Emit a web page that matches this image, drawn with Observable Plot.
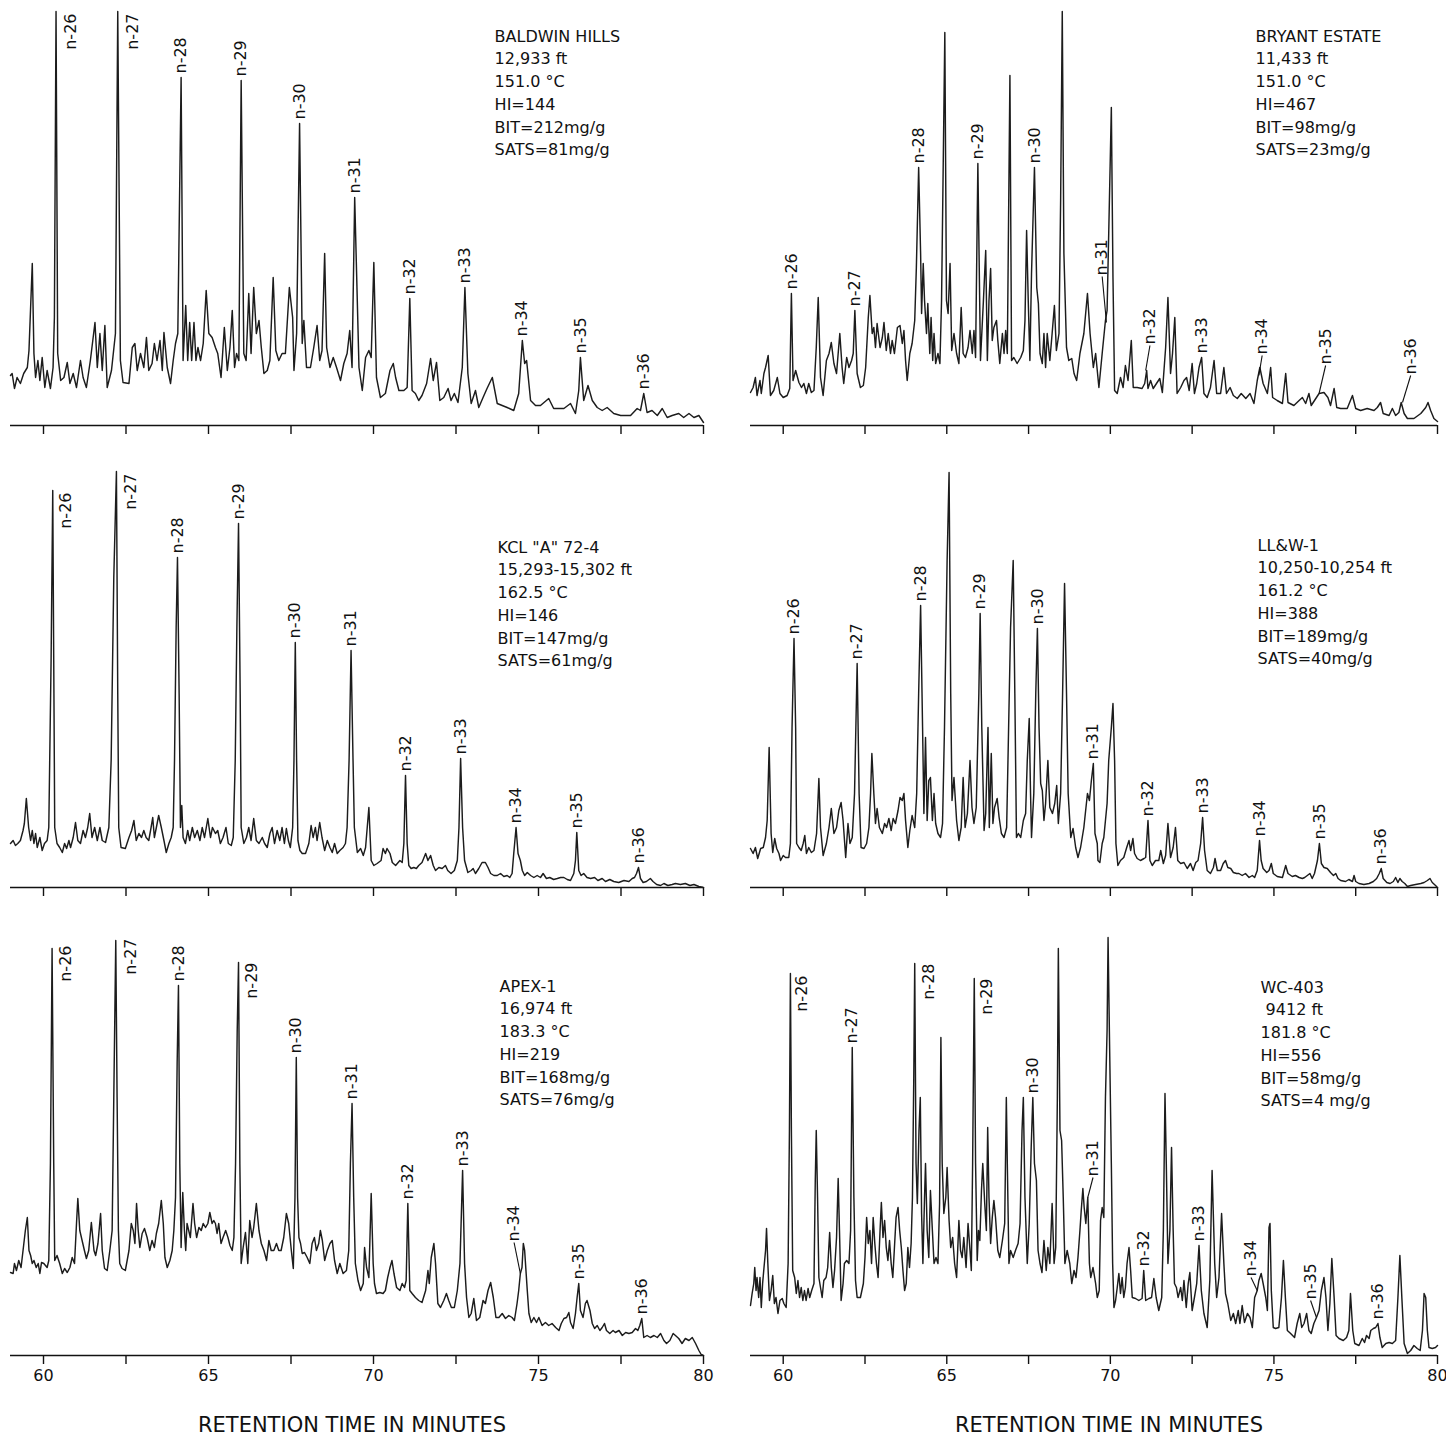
<!DOCTYPE html>
<html>
<head>
<meta charset="utf-8">
<script src="https://cdn.jsdelivr.net/npm/d3@7"></script>
<script src="https://cdn.jsdelivr.net/npm/@observablehq/plot@0.6"></script>
<style>
  body { margin: 0; background: #fff; }
  #page { position: relative; width: 1446px; height: 1441px; background: #fff; font-family: "DejaVu Sans", sans-serif; color: #111; }
  .panel { position: absolute; }
  .panel svg { overflow: visible; }
  .panel svg text { white-space: pre; }
  .xtitle { position: absolute; width: 400px; text-align: center; font-size: 21px; line-height: 21px; color: #111; }
</style>
</head>
<body>
<div id="page"></div>
<script>
// Gas chromatograms (saturate fraction), retention time 59–80 min.
// Each trace is a list of [retention time (min), detector response (arbitrary units)].

const retentionTicks = [60, 62.5, 65, 67.5, 70, 72.5, 75, 77.5, 80];

// ---------- BALDWIN HILLS ----------
const baldwinInfo = ["BALDWIN HILLS", "12,933 ft", "151.0 °C", "HI=144", "BIT=212mg/g", "SATS=81mg/g"];
const baldwinTrace = [[59.00,50],[59.05,52],[59.12,37],[59.20,48],[59.30,42],[59.40,52],[59.51,58],[59.56,75],[59.66,162],[59.71,72],[59.76,48],[59.83,65],[59.89,45],[59.96,68],[60.04,38],[60.11,55],[60.21,37],[60.29,58],[60.33,108],[60.38,414],[60.43,72],[60.52,45],[60.62,48],[60.72,63],[60.80,42],[60.90,52],[61.00,38],[61.12,65],[61.20,48],[61.30,38],[61.42,65],[61.56,103],[61.63,58],[61.71,92],[61.78,55],[61.86,100],[61.93,38],[62.06,55],[62.18,92],[62.25,414],[62.33,65],[62.41,43],[62.59,42],[62.69,78],[62.77,82],[62.84,55],[62.94,72],[63.04,58],[63.12,88],[63.19,55],[63.29,62],[63.36,82],[63.44,65],[63.53,85],[63.60,55],[63.65,93],[63.75,58],[63.85,42],[63.93,65],[64.00,82],[64.07,92],[64.17,348],[64.23,65],[64.31,120],[64.37,65],[64.43,103],[64.49,65],[64.56,103],[64.62,65],[64.68,78],[64.76,65],[64.84,82],[64.93,135],[65.01,92],[65.11,88],[65.21,78],[65.28,72],[65.38,48],[65.48,98],[65.57,55],[65.65,78],[65.72,115],[65.79,58],[65.85,72],[65.92,65],[65.99,345],[66.07,72],[66.14,65],[66.22,132],[66.29,72],[66.37,138],[66.45,92],[66.53,105],[66.60,78],[66.68,52],[66.78,55],[66.86,65],[66.96,148],[67.04,75],[67.13,65],[67.23,72],[67.33,72],[67.45,138],[67.55,108],[67.59,55],[67.67,92],[67.76,302],[67.84,82],[67.89,105],[67.97,58],[68.09,58],[68.19,78],[68.29,100],[68.37,65],[68.44,75],[68.52,172],[68.58,78],[68.68,58],[68.78,68],[68.88,58],[69.00,45],[69.10,62],[69.20,72],[69.28,95],[69.35,58],[69.43,228],[69.56,58],[69.66,35],[69.76,68],[69.86,75],[69.93,68],[70.01,163],[70.09,48],[70.21,28],[70.36,32],[70.50,55],[70.60,62],[70.67,48],[70.77,35],[70.92,35],[71.02,38],[71.10,127],[71.17,35],[71.27,32],[71.37,25],[71.47,30],[71.61,42],[71.73,67],[71.81,45],[71.91,63],[72.01,25],[72.13,28],[72.26,37],[72.35,25],[72.45,32],[72.56,23],[72.69,58],[72.77,138],[72.86,52],[72.96,22],[73.09,35],[73.19,18],[73.32,28],[73.44,37],[73.60,48],[73.75,22],[73.90,20],[74.05,18],[74.25,15],[74.40,32],[74.51,85],[74.58,62],[74.64,65],[74.76,25],[74.91,20],[75.06,20],[75.31,27],[75.46,17],[75.77,17],[75.97,22],[76.12,12],[76.22,35],[76.27,68],[76.37,25],[76.50,40],[76.63,25],[76.78,18],[76.93,15],[77.08,18],[77.28,12],[77.49,10],[77.79,10],[77.99,17],[78.09,15],[78.19,32],[78.29,13],[78.44,15],[78.60,10],[78.75,17],[78.90,8],[79.05,10],[79.25,12],[79.40,8],[79.56,12],[79.71,8],[79.86,10],[80.00,3]];
// [name, peak time, peak response, placement, label time, label response]
const baldwinPeaks = [["n-26",60.38,414,"side",60.82,412],["n-27",62.25,414,"side",62.72,412],["n-28",64.17,348,"tip"],["n-29",65.99,345,"tip"],["n-30",67.76,302,"tip"],["n-31",69.43,228,"tip"],["n-32",71.10,127,"tip"],["n-33",72.77,138,"tip"],["n-34",74.51,85,"tip"],["n-35",76.27,68,"tip"],["n-36",78.19,32,"tip"]];

// ---------- BRYANT ESTATE ----------
const bryantInfo = ["BRYANT ESTATE", "11,433 ft", "151.0 °C", "HI=467", "BIT=98mg/g", "SATS=23mg/g"];
const bryantTrace = [[59.00,33],[59.08,38],[59.15,48],[59.20,30],[59.29,45],[59.33,32],[59.41,52],[59.46,58],[59.54,70],[59.61,30],[59.71,35],[59.82,48],[59.90,32],[60.00,28],[60.12,30],[60.20,37],[60.25,132],[60.30,45],[60.38,55],[60.48,43],[60.56,38],[60.63,42],[60.71,32],[60.78,42],[60.86,33],[60.94,35],[61.01,78],[61.07,128],[61.14,48],[61.22,30],[61.32,65],[61.40,72],[61.47,83],[61.55,62],[61.63,52],[61.73,92],[61.80,58],[61.85,42],[61.94,68],[62.01,58],[62.09,65],[62.14,72],[62.19,115],[62.26,52],[62.36,38],[62.45,40],[62.52,58],[62.60,108],[62.65,130],[62.72,92],[62.77,98],[62.82,78],[62.87,102],[62.96,78],[63.03,88],[63.08,103],[63.15,75],[63.21,92],[63.28,72],[63.33,85],[63.40,72],[63.49,98],[63.57,100],[63.64,82],[63.69,95],[63.74,65],[63.79,45],[63.87,72],[63.94,82],[64.02,105],[64.07,158],[64.14,258],[64.20,172],[64.23,112],[64.28,162],[64.32,125],[64.38,92],[64.42,122],[64.48,72],[64.52,108],[64.57,65],[64.61,92],[64.66,62],[64.73,72],[64.79,62],[64.84,125],[64.89,258],[64.94,393],[64.99,125],[65.04,112],[65.10,162],[65.15,75],[65.22,92],[65.30,72],[65.37,62],[65.44,118],[65.50,72],[65.57,68],[65.65,78],[65.71,95],[65.78,72],[65.83,95],[65.88,68],[65.95,262],[66.03,65],[66.12,125],[66.19,175],[66.24,65],[66.29,125],[66.34,157],[66.39,85],[66.44,98],[66.52,105],[66.56,85],[66.62,62],[66.70,92],[66.75,72],[66.80,95],[66.85,72],[66.93,350],[66.98,65],[67.05,68],[67.15,62],[67.26,68],[67.34,75],[67.39,105],[67.44,195],[67.49,125],[67.54,65],[67.59,152],[67.68,258],[67.75,138],[67.80,122],[67.85,72],[67.92,62],[67.97,92],[68.02,58],[68.07,92],[68.15,65],[68.22,92],[68.29,120],[68.35,75],[68.43,92],[68.48,225],[68.53,414],[68.58,172],[68.66,78],[68.73,65],[68.82,67],[68.89,52],[68.97,45],[69.07,72],[69.19,92],[69.30,132],[69.38,92],[69.48,58],[69.55,72],[69.65,38],[69.75,72],[69.85,105],[69.90,115],[69.95,192],[70.03,318],[70.08,148],[70.13,35],[70.21,32],[70.31,48],[70.39,38],[70.46,60],[70.54,45],[70.64,85],[70.70,38],[70.82,38],[70.97,37],[71.05,42],[71.11,55],[71.15,37],[71.23,45],[71.31,37],[71.41,42],[71.51,47],[71.59,33],[71.69,78],[71.76,128],[71.84,52],[71.90,72],[71.97,108],[72.04,32],[72.15,38],[72.25,45],[72.33,48],[72.41,35],[72.50,62],[72.57,32],[72.64,42],[72.71,58],[72.79,68],[72.86,32],[72.96,28],[73.06,38],[73.17,65],[73.25,32],[73.37,32],[73.47,58],[73.55,32],[73.66,38],[73.76,30],[73.88,27],[74.00,32],[74.14,27],[74.27,32],[74.39,22],[74.49,45],[74.57,58],[74.67,42],[74.80,32],[74.90,58],[74.96,28],[75.10,25],[75.26,22],[75.36,52],[75.43,23],[75.61,20],[75.77,25],[75.87,28],[75.97,22],[76.07,32],[76.14,20],[76.24,25],[76.38,32],[76.53,33],[76.65,28],[76.73,20],[76.84,37],[76.92,18],[77.04,17],[77.24,17],[77.40,30],[77.50,17],[77.65,15],[77.85,17],[78.06,15],[78.16,18],[78.26,23],[78.34,12],[78.52,10],[78.62,17],[78.72,10],[78.82,13],[78.89,23],[78.98,12],[79.08,7],[79.28,7],[79.49,12],[79.64,18],[79.71,23],[79.79,15],[79.89,7],[80.00,4]];
const bryantPeaks = [["n-26",60.25,132,"tip"],["n-27",62.19,115,"tip"],["n-28",64.14,258,"tip"],["n-29",65.95,262,"tip"],["n-30",67.68,258,"tip"],["n-31",69.88,103,"lead",69.75,149],["n-32",71.08,55,"lead",71.21,80],["n-33",72.79,68,"tip"],["n-34",74.54,50,"lead",74.64,70],["n-35",76.38,32,"lead",76.58,60],["n-36",78.93,23,"lead",79.18,50]];

// ---------- KCL "A" 72-4 ----------
const kclInfo = ["KCL \"A\" 72-4", "15,293-15,302 ft", "162.5 °C", "HI=146", "BIT=147mg/g", "SATS=61mg/g"];
const kclTrace = [[59.00,44],[59.08,47],[59.15,42],[59.22,44],[59.30,47],[59.38,57],[59.42,64],[59.48,89],[59.55,60],[59.61,47],[59.66,57],[59.71,44],[59.76,54],[59.81,40],[59.89,50],[59.96,37],[60.03,44],[60.11,47],[60.16,60],[60.23,227],[60.28,397],[60.31,227],[60.34,60],[60.41,44],[60.49,40],[60.57,35],[60.64,44],[60.70,39],[60.77,47],[60.82,40],[60.90,50],[60.97,65],[61.04,47],[61.12,44],[61.20,57],[61.27,50],[61.34,60],[61.40,74],[61.47,50],[61.55,60],[61.63,47],[61.71,60],[61.78,47],[61.88,45],[61.98,60],[62.05,127],[62.13,310],[62.21,416],[62.25,194],[62.28,60],[62.35,40],[62.48,39],[62.59,50],[62.67,57],[62.74,67],[62.81,47],[62.89,54],[62.97,50],[63.04,57],[63.11,50],[63.19,47],[63.26,60],[63.31,70],[63.36,50],[63.42,60],[63.49,72],[63.57,60],[63.65,47],[63.72,35],[63.80,44],[63.87,50],[63.93,60],[63.97,127],[64.02,260],[64.06,330],[64.11,194],[64.15,60],[64.19,82],[64.23,50],[64.30,44],[64.37,57],[64.43,47],[64.51,60],[64.58,50],[64.66,57],[64.74,47],[64.81,60],[64.88,50],[64.98,69],[65.06,50],[65.12,60],[65.21,54],[65.28,57],[65.36,44],[65.44,50],[65.53,60],[65.60,44],[65.69,42],[65.75,50],[65.81,127],[65.86,260],[65.91,364],[65.96,194],[65.99,60],[66.07,44],[66.15,50],[66.22,60],[66.29,47],[66.37,69],[66.45,47],[66.53,44],[66.63,50],[66.70,44],[66.78,40],[66.86,54],[66.93,60],[67.00,44],[67.08,57],[67.16,47],[67.23,60],[67.30,44],[67.36,59],[67.42,47],[67.48,40],[67.55,60],[67.59,127],[67.63,245],[67.67,127],[67.71,47],[67.77,37],[67.84,34],[67.94,34],[68.04,44],[68.11,62],[68.17,50],[68.24,60],[68.29,47],[68.37,65],[68.44,50],[68.52,37],[68.60,47],[68.68,40],[68.75,35],[68.82,44],[68.90,34],[68.98,37],[69.08,40],[69.15,44],[69.20,60],[69.26,127],[69.32,237],[69.38,127],[69.42,60],[69.51,35],[69.61,39],[69.69,32],[69.76,40],[69.86,80],[69.93,27],[70.01,22],[70.11,24],[70.23,27],[70.29,39],[70.36,34],[70.41,39],[70.50,34],[70.57,25],[70.67,22],[70.80,27],[70.87,25],[70.92,44],[70.97,112],[71.02,44],[71.07,22],[71.14,19],[71.22,20],[71.30,19],[71.37,22],[71.47,25],[71.58,34],[71.65,27],[71.73,32],[71.81,22],[71.88,17],[71.98,20],[72.08,19],[72.18,22],[72.25,17],[72.35,14],[72.45,17],[72.54,27],[72.59,60],[72.64,129],[72.70,60],[72.76,27],[72.86,15],[72.96,17],[73.02,19],[73.09,14],[73.19,19],[73.29,25],[73.39,25],[73.47,20],[73.55,14],[73.65,12],[73.75,12],[73.85,14],[73.95,11],[74.05,12],[74.13,10],[74.20,14],[74.25,34],[74.32,60],[74.38,34],[74.45,27],[74.51,17],[74.58,12],[74.66,15],[74.76,12],[74.86,10],[74.96,12],[75.06,10],[75.14,14],[75.24,9],[75.34,10],[75.46,8],[75.57,9],[75.67,10],[75.77,10],[75.87,8],[75.97,7],[76.07,14],[76.12,27],[76.16,55],[76.22,17],[76.29,12],[76.37,14],[76.47,10],[76.58,9],[76.70,10],[76.80,7],[76.93,9],[77.03,6],[77.16,8],[77.28,6],[77.43,5],[77.59,7],[77.74,6],[77.84,9],[77.91,10],[77.97,14],[78.03,20],[78.09,9],[78.17,5],[78.27,6],[78.39,9],[78.47,6],[78.58,3],[78.70,2],[78.80,4],[78.92,2],[79.05,3],[79.15,4],[79.30,3],[79.45,4],[79.59,2],[79.71,3],[79.86,1],[80.00,0]];
const kclPeaks = [["n-26",60.28,397,"side",60.67,395],["n-27",62.21,416,"side",62.64,414],["n-28",64.06,330,"tip"],["n-29",65.91,364,"tip"],["n-30",67.63,245,"tip"],["n-31",69.32,237,"tip"],["n-32",70.97,112,"tip"],["n-33",72.64,129,"tip"],["n-34",74.32,60,"tip"],["n-35",76.16,55,"tip"],["n-36",78.03,20,"tip"]];

// ---------- LL&W-1 ----------
const llwInfo = ["LL&W-1", "10,250-10,254 ft", "161.2 °C", "HI=388", "BIT=189mg/g", "SATS=40mg/g"];
const llwTrace = [[59.00,39],[59.08,34],[59.15,40],[59.22,29],[59.31,39],[59.39,40],[59.46,50],[59.51,67],[59.57,140],[59.63,54],[59.68,35],[59.74,49],[59.80,39],[59.87,34],[59.92,27],[60.00,32],[60.07,30],[60.17,30],[60.22,44],[60.27,160],[60.33,249],[60.38,160],[60.41,44],[60.48,40],[60.55,37],[60.61,44],[60.66,52],[60.71,34],[60.78,40],[60.86,35],[60.94,37],[61.02,54],[61.09,109],[61.14,60],[61.22,32],[61.32,44],[61.40,60],[61.47,79],[61.55,54],[61.63,60],[61.70,77],[61.77,85],[61.83,67],[61.91,30],[61.98,64],[62.04,44],[62.11,50],[62.18,94],[62.26,224],[62.32,94],[62.38,40],[62.47,39],[62.55,44],[62.62,60],[62.67,94],[62.71,134],[62.77,94],[62.82,64],[62.87,79],[62.94,60],[63.03,54],[63.10,64],[63.16,60],[63.23,69],[63.30,57],[63.36,69],[63.43,64],[63.51,77],[63.57,90],[63.64,87],[63.69,94],[63.74,67],[63.81,40],[63.87,57],[63.94,72],[64.02,60],[64.08,94],[64.14,194],[64.20,282],[64.26,160],[64.30,74],[64.35,150],[64.40,67],[64.45,107],[64.50,110],[64.56,67],[64.61,94],[64.66,64],[64.73,54],[64.81,50],[64.87,64],[64.93,160],[65.01,327],[65.07,415],[65.12,194],[65.16,87],[65.22,110],[65.30,67],[65.37,47],[65.44,60],[65.50,110],[65.56,60],[65.63,74],[65.71,127],[65.77,80],[65.83,64],[65.90,80],[65.98,194],[66.02,274],[66.07,160],[66.14,57],[66.19,74],[66.26,160],[66.30,60],[66.36,134],[66.41,64],[66.46,80],[66.54,89],[66.60,70],[66.67,54],[66.75,50],[66.83,60],[66.89,160],[66.95,260],[67.03,327],[67.08,194],[67.13,50],[67.19,54],[67.26,50],[67.34,67],[67.41,74],[67.46,127],[67.52,169],[67.56,94],[67.59,50],[67.66,94],[67.72,194],[67.77,259],[67.82,160],[67.87,104],[67.92,97],[67.97,67],[68.02,84],[68.09,127],[68.15,80],[68.23,74],[68.30,84],[68.36,102],[68.41,64],[68.48,94],[68.54,194],[68.60,304],[68.66,194],[68.71,94],[68.79,50],[68.86,59],[68.94,40],[69.01,30],[69.09,40],[69.19,60],[69.30,94],[69.36,87],[69.42,107],[69.48,124],[69.53,54],[69.60,44],[69.62,27],[69.68,25],[69.75,44],[69.80,50],[69.85,67],[69.90,84],[69.95,127],[70.03,160],[70.08,184],[70.13,127],[70.17,44],[70.23,22],[70.31,27],[70.41,30],[70.50,40],[70.57,47],[70.62,37],[70.69,49],[70.74,34],[70.82,29],[70.92,27],[71.03,29],[71.08,30],[71.15,67],[71.21,27],[71.28,22],[71.38,27],[71.48,27],[71.54,37],[71.62,24],[71.69,32],[71.76,64],[71.84,30],[71.92,40],[71.99,60],[72.06,27],[72.15,24],[72.25,25],[72.35,19],[72.45,24],[72.53,17],[72.61,25],[72.68,27],[72.76,44],[72.82,70],[72.88,37],[72.96,17],[73.06,14],[73.15,20],[73.20,29],[73.27,17],[73.37,17],[73.45,24],[73.52,27],[73.59,20],[73.68,19],[73.76,15],[73.86,14],[73.93,14],[74.03,12],[74.13,14],[74.24,10],[74.34,12],[74.41,10],[74.49,17],[74.56,47],[74.61,27],[74.67,19],[74.78,15],[74.85,17],[74.92,24],[74.98,14],[75.10,11],[75.26,10],[75.36,22],[75.43,14],[75.56,11],[75.66,12],[75.77,10],[75.87,9],[75.94,10],[76.02,12],[76.10,14],[76.17,9],[76.24,14],[76.33,27],[76.39,44],[76.45,24],[76.53,20],[76.63,19],[76.73,15],[76.82,12],[76.89,14],[76.96,9],[77.04,7],[77.19,6],[77.29,8],[77.40,6],[77.45,12],[77.50,6],[77.60,4],[77.75,3],[77.91,4],[78.04,6],[78.14,9],[78.22,14],[78.28,19],[78.34,9],[78.45,5],[78.55,4],[78.65,6],[78.72,10],[78.79,5],[78.85,9],[78.92,6],[79.00,4],[79.08,1],[79.18,2],[79.33,3],[79.49,4],[79.59,5],[79.69,7],[79.77,9],[79.84,5],[79.94,2],[80.00,0]];
const llwPeaks = [["n-26",60.33,249,"tip"],["n-27",62.26,224,"tip"],["n-28",64.20,282,"tip"],["n-29",66.02,274,"tip"],["n-30",67.77,259,"tip"],["n-31",69.48,124,"tip"],["n-32",71.15,67,"tip"],["n-33",72.82,70,"tip"],["n-34",74.56,47,"tip"],["n-35",76.39,44,"tip"],["n-36",78.28,19,"tip"]];

// ---------- APEX-1 ----------
const apexInfo = ["APEX-1", "16,974 ft", "183.3 °C", "HI=219", "BIT=168mg/g", "SATS=76mg/g"];
const apexTrace = [[59.00,83],[59.08,82],[59.12,92],[59.18,85],[59.25,95],[59.32,88],[59.38,105],[59.45,125],[59.51,138],[59.56,105],[59.61,100],[59.66,92],[59.71,95],[59.78,88],[59.84,92],[59.89,82],[59.94,93],[60.01,92],[60.06,90],[60.11,88],[60.16,95],[60.21,192],[60.26,407],[60.31,192],[60.34,95],[60.41,100],[60.49,92],[60.57,82],[60.64,87],[60.72,83],[60.80,88],[60.87,98],[60.94,92],[61.00,132],[61.04,157],[61.10,125],[61.17,115],[61.24,105],[61.30,97],[61.37,105],[61.45,133],[61.53,105],[61.58,100],[61.65,112],[61.73,142],[61.78,105],[61.85,87],[61.93,85],[62.01,105],[62.08,125],[62.13,258],[62.19,415],[62.23,258],[62.27,125],[62.31,92],[62.38,87],[62.48,85],[62.59,105],[62.66,132],[62.72,125],[62.77,112],[62.82,152],[62.87,125],[62.92,108],[62.99,122],[63.06,127],[63.14,118],[63.22,105],[63.29,115],[63.36,108],[63.42,122],[63.49,132],[63.57,155],[63.63,132],[63.68,98],[63.75,88],[63.83,95],[63.90,105],[63.95,125],[64.00,158],[64.05,292],[64.09,370],[64.13,192],[64.17,108],[64.22,163],[64.27,125],[64.31,105],[64.35,132],[64.40,125],[64.45,118],[64.53,152],[64.58,132],[64.64,118],[64.71,128],[64.78,125],[64.84,132],[64.91,128],[64.98,132],[65.04,143],[65.11,132],[65.16,135],[65.21,132],[65.26,122],[65.31,132],[65.38,112],[65.44,118],[65.52,125],[65.59,118],[65.65,110],[65.72,105],[65.77,118],[65.82,192],[65.87,325],[65.91,393],[65.95,192],[65.99,92],[66.05,108],[66.12,123],[66.19,92],[66.25,135],[66.32,118],[66.37,128],[66.45,152],[66.53,125],[66.60,112],[66.68,105],[66.76,95],[66.83,115],[66.90,105],[66.98,105],[67.06,112],[67.13,105],[67.20,105],[67.28,118],[67.36,142],[67.43,132],[67.51,105],[67.57,87],[67.62,158],[67.66,298],[67.70,158],[67.74,118],[67.79,112],[67.84,102],[67.91,103],[67.99,98],[68.07,92],[68.14,112],[68.21,118],[68.27,105],[68.34,112],[68.39,125],[68.45,115],[68.52,95],[68.60,105],[68.68,112],[68.75,115],[68.82,95],[68.90,82],[68.98,92],[69.08,82],[69.18,85],[69.25,105],[69.30,192],[69.35,252],[69.40,158],[69.45,92],[69.53,75],[69.61,65],[69.69,72],[69.73,108],[69.79,88],[69.86,78],[69.93,162],[69.99,92],[70.03,72],[70.09,62],[70.19,63],[70.29,62],[70.36,65],[70.43,78],[70.50,88],[70.56,95],[70.62,82],[70.70,68],[70.80,65],[70.87,72],[70.94,68],[70.99,75],[71.04,152],[71.10,65],[71.17,62],[71.27,58],[71.37,55],[71.47,53],[71.58,65],[71.65,85],[71.69,72],[71.75,98],[71.83,112],[71.88,92],[71.95,52],[72.03,48],[72.13,55],[72.21,62],[72.28,55],[72.36,48],[72.45,48],[72.54,65],[72.62,92],[72.70,185],[72.76,92],[72.82,58],[72.89,38],[72.96,42],[73.04,57],[73.12,35],[73.22,38],[73.32,55],[73.39,52],[73.47,65],[73.55,73],[73.63,58],[73.71,38],[73.80,38],[73.90,42],[74.00,37],[74.10,40],[74.20,38],[74.27,35],[74.35,52],[74.40,65],[74.45,82],[74.50,88],[74.54,112],[74.58,105],[74.66,65],[74.71,42],[74.78,33],[74.86,38],[74.94,33],[75.01,38],[75.11,30],[75.21,33],[75.31,30],[75.41,32],[75.52,28],[75.62,25],[75.69,32],[75.77,37],[75.85,38],[75.92,43],[75.97,33],[76.05,27],[76.12,42],[76.17,58],[76.22,72],[76.27,45],[76.35,38],[76.42,52],[76.47,55],[76.56,45],[76.63,32],[76.70,27],[76.78,30],[76.86,25],[76.93,28],[77.00,32],[77.06,25],[77.16,22],[77.26,25],[77.33,23],[77.44,25],[77.54,20],[77.64,23],[77.74,22],[77.84,23],[77.94,27],[78.01,25],[78.07,30],[78.13,37],[78.19,18],[78.29,20],[78.39,18],[78.50,20],[78.60,18],[78.70,22],[78.80,15],[78.88,12],[78.98,15],[79.08,22],[79.15,20],[79.25,17],[79.35,12],[79.45,17],[79.56,15],[79.66,18],[79.76,12],[79.86,5],[79.93,1],[80.00,0]];
const apexPeaks = [["n-26",60.26,407,"side",60.67,410],["n-27",62.19,415,"side",62.64,417],["n-28",64.09,370,"tip"],["n-29",65.91,393,"side",66.32,393],["n-30",67.66,298,"tip"],["n-31",69.35,252,"tip"],["n-32",71.04,152,"tip"],["n-33",72.70,185,"tip"],["n-34",74.45,82,"lead",74.26,113],["n-35",76.22,72,"tip"],["n-36",78.13,37,"tip"]];

// ---------- WC-403 ----------
const wcInfo = ["WC-403", " 9412 ft", "181.8 °C", "HI=556", "BIT=58mg/g", "SATS=4 mg/g"];
const wcTrace = [[59.00,50],[59.05,62],[59.10,72],[59.13,88],[59.17,65],[59.20,78],[59.25,58],[59.29,78],[59.33,48],[59.37,72],[59.41,87],[59.46,105],[59.49,127],[59.53,92],[59.58,55],[59.63,65],[59.68,80],[59.73,52],[59.78,58],[59.84,42],[59.90,55],[59.97,57],[60.02,52],[60.09,48],[60.15,92],[60.19,225],[60.22,382],[60.25,225],[60.29,85],[60.35,78],[60.40,62],[60.45,75],[60.50,58],[60.55,68],[60.60,55],[60.65,65],[60.70,55],[60.76,67],[60.81,58],[60.87,65],[60.94,72],[60.98,175],[61.01,225],[61.05,158],[61.09,78],[61.14,68],[61.19,58],[61.24,75],[61.31,78],[61.36,88],[61.42,123],[61.47,88],[61.52,68],[61.57,85],[61.63,118],[61.68,177],[61.72,125],[61.77,55],[61.83,72],[61.87,92],[61.94,95],[62.01,92],[62.06,125],[62.11,308],[62.16,158],[62.21,75],[62.26,58],[62.36,58],[62.45,72],[62.50,98],[62.55,138],[62.60,112],[62.65,125],[62.70,92],[62.75,138],[62.80,112],[62.85,92],[62.90,78],[62.96,125],[63.00,153],[63.05,118],[63.10,135],[63.15,108],[63.20,95],[63.25,115],[63.30,92],[63.35,78],[63.40,108],[63.45,138],[63.51,148],[63.56,125],[63.61,108],[63.66,85],[63.71,65],[63.76,72],[63.81,108],[63.86,88],[63.91,112],[63.95,158],[63.99,275],[64.02,392],[64.06,192],[64.10,152],[64.15,225],[64.19,258],[64.23,142],[64.27,92],[64.32,158],[64.35,192],[64.40,125],[64.45,98],[64.50,165],[64.56,125],[64.61,92],[64.67,98],[64.73,92],[64.78,152],[64.82,318],[64.86,192],[64.91,142],[64.97,158],[65.01,188],[65.07,135],[65.12,108],[65.18,118],[65.24,92],[65.30,78],[65.37,135],[65.42,105],[65.47,98],[65.52,118],[65.59,88],[65.65,132],[65.71,105],[65.75,85],[65.79,192],[65.84,377],[65.88,192],[65.93,95],[65.97,125],[66.01,115],[66.06,165],[66.10,192],[66.16,152],[66.21,125],[66.25,228],[66.29,158],[66.34,112],[66.39,138],[66.44,155],[66.49,138],[66.56,105],[66.62,98],[66.70,115],[66.77,132],[66.82,258],[66.85,192],[66.90,92],[66.95,105],[67.03,98],[67.10,105],[67.18,112],[67.24,132],[67.30,225],[67.34,258],[67.39,158],[67.46,92],[67.52,132],[67.58,208],[67.63,258],[67.68,192],[67.74,175],[67.79,105],[67.85,92],[67.91,83],[67.97,115],[68.04,85],[68.09,108],[68.15,92],[68.22,152],[68.28,92],[68.33,108],[68.38,258],[68.41,407],[68.46,225],[68.51,215],[68.56,158],[68.61,92],[68.68,105],[68.76,92],[68.82,72],[68.89,85],[68.95,78],[69.01,98],[69.07,125],[69.11,145],[69.16,167],[69.20,148],[69.25,132],[69.31,158],[69.36,92],[69.40,78],[69.47,88],[69.55,72],[69.60,58],[69.66,65],[69.70,135],[69.75,148],[69.80,138],[69.85,258],[69.90,325],[69.93,418],[69.97,325],[70.03,192],[70.07,92],[70.11,48],[70.16,55],[70.21,68],[70.26,82],[70.31,62],[70.36,78],[70.41,58],[70.46,68],[70.51,92],[70.57,108],[70.62,85],[70.67,58],[70.77,57],[70.87,55],[70.97,57],[71.02,85],[71.08,55],[71.18,57],[71.26,58],[71.33,77],[71.40,58],[71.48,45],[71.57,58],[71.62,125],[71.67,262],[71.71,192],[71.76,92],[71.82,125],[71.87,208],[71.92,125],[71.96,72],[72.02,68],[72.07,58],[72.15,68],[72.20,55],[72.25,75],[72.32,48],[72.38,72],[72.43,83],[72.50,45],[72.57,58],[72.64,72],[72.71,110],[72.78,65],[72.86,42],[72.96,28],[73.04,75],[73.11,185],[73.19,92],[73.25,58],[73.32,78],[73.40,142],[73.47,92],[73.52,62],[73.59,52],[73.68,35],[73.76,42],[73.83,32],[73.91,45],[73.96,32],[74.03,50],[74.10,33],[74.19,42],[74.27,38],[74.34,28],[74.41,58],[74.49,65],[74.54,75],[74.61,82],[74.67,72],[74.75,58],[74.80,45],[74.85,128],[74.88,132],[74.92,65],[74.98,28],[75.05,27],[75.15,28],[75.23,58],[75.29,95],[75.35,58],[75.41,25],[75.51,22],[75.63,18],[75.71,32],[75.79,42],[75.85,28],[75.92,32],[76.00,42],[76.07,25],[76.14,22],[76.22,32],[76.30,38],[76.38,45],[76.45,65],[76.53,78],[76.59,58],[76.65,25],[76.71,52],[76.77,97],[76.84,58],[76.90,20],[76.99,17],[77.12,15],[77.22,18],[77.29,25],[77.34,62],[77.41,25],[77.47,12],[77.60,10],[77.70,17],[77.77,13],[77.83,20],[77.91,17],[77.96,25],[78.04,27],[78.11,28],[78.18,32],[78.24,18],[78.31,8],[78.42,12],[78.52,13],[78.62,12],[78.72,15],[78.79,58],[78.85,100],[78.91,58],[78.98,12],[79.08,2],[79.18,5],[79.28,10],[79.38,7],[79.47,5],[79.54,25],[79.59,62],[79.64,58],[79.69,25],[79.74,8],[79.84,7],[79.94,8],[80.00,10]];
const wcPeaks = [["n-26",60.22,382,"side",60.58,380],["n-27",62.11,308,"tip"],["n-28",64.02,392,"side",64.45,392],["n-29",65.84,377,"side",66.24,377],["n-30",67.63,258,"tip"],["n-31",69.31,158,"lead",69.47,178],["n-32",71.02,85,"tip"],["n-33",72.71,110,"tip"],["n-34",74.49,65,"lead",74.30,78],["n-35",76.30,38,"lead",76.12,55],["n-36",78.18,32,"tip"]];

// ---------- page layout ----------
const axisTitle = "RETENTION TIME IN MINUTES";
const columns = {
  left:  {left: 0,   width: 720, marginLeft: 10, marginRight: 17},
  right: {left: 740, width: 706, marginLeft: 10, marginRight: 9}
};
const rows = [
  {top: 0,   marginBottom: 12, tickLabels: false},
  {top: 462, marginBottom: 12, tickLabels: false},
  {top: 930, marginBottom: 40, tickLabels: true}
];
const MARGIN_TOP = 9;
const RESPONSE_MAX = 416;

const panels = [
  {trace: baldwinTrace, peaks: baldwinPeaks, info: baldwinInfo, infoAt: [73.67, 400], col: "left",  row: 0},
  {trace: bryantTrace,  peaks: bryantPeaks,  info: bryantInfo,  infoAt: [74.44, 400], col: "right", row: 0},
  {trace: kclTrace,     peaks: kclPeaks,     info: kclInfo,     infoAt: [73.76, 351], col: "left",  row: 1},
  {trace: llwTrace,     peaks: llwPeaks,     info: llwInfo,     infoAt: [74.50, 353], col: "right", row: 1},
  {trace: apexTrace,    peaks: apexPeaks,    info: apexInfo,    infoAt: [73.82, 380], col: "left",  row: 2},
  {trace: wcTrace,      peaks: wcPeaks,      info: wcInfo,      infoAt: [74.59, 379], col: "right", row: 2}
];

const page = document.getElementById("page");
const ink = "#111";

for (const p of panels) {
  const col = columns[p.col];
  const row = rows[p.row];
  const tip = p.peaks.filter(d => d[3] === "tip");
  const side = p.peaks.filter(d => d[3] === "side");
  const lead = p.peaks.filter(d => d[3] === "lead");

  const chart = Plot.plot({
    width: col.width,
    height: MARGIN_TOP + RESPONSE_MAX + row.marginBottom,
    marginLeft: col.marginLeft,
    marginRight: col.marginRight,
    marginTop: MARGIN_TOP,
    marginBottom: row.marginBottom,
    style: {fontFamily: "DejaVu Sans", fontSize: "16px", color: ink, background: "transparent", overflow: "visible"},
    x: {domain: [59, 80]},
    y: {domain: [0, RESPONSE_MAX], axis: null},
    marks: [
      Plot.axisX(retentionTicks, {
        tickSize: 9, tickPadding: 5, strokeWidth: 1.4, label: null, fontSize: 16,
        tickFormat: row.tickLabels ? (d => d % 5 === 0 ? String(d) : "") : (() => "")
      }),
      Plot.ruleY([0], {stroke: ink, strokeWidth: 1.4}),
      Plot.line(p.trace, {x: d => d[0], y: d => d[1], stroke: "#1c1c1c", strokeWidth: 1.45}),
      Plot.text(tip, {x: d => d[1], y: d => d[2], text: d => d[0], rotate: -90, textAnchor: "start", dy: -4, fill: ink, fontSize: 16}),
      Plot.text(side, {x: d => d[4], y: d => d[5], text: d => d[0], rotate: -90, textAnchor: "end", fill: ink, fontSize: 16}),
      Plot.link(lead, {x1: d => d[4], y1: d => d[5], x2: d => d[1], y2: d => d[2], stroke: ink, strokeWidth: 1.1}),
      Plot.text(lead, {x: d => d[4], y: d => d[5], text: d => d[0], rotate: -90, textAnchor: "start", dy: -1, fill: ink, fontSize: 16}),
      Plot.text([p.info.join("\n")], {x: p.infoAt[0], y: p.infoAt[1], text: d => d, textAnchor: "start", lineAnchor: "top", lineHeight: 1.42, fill: ink, fontSize: 16})
    ]
  });

  const holder = document.createElement("div");
  holder.className = "panel";
  holder.style.left = col.left + "px";
  holder.style.top = row.top + "px";
  holder.appendChild(chart);
  page.appendChild(holder);
}

// x-axis titles under the bottom row
for (const center of [352, 1109]) {
  const t = document.createElement("div");
  t.className = "xtitle";
  t.style.left = (center - 200) + "px";
  t.style.top = "1415px";
  t.textContent = axisTitle;
  page.appendChild(t);
}
</script>
</body>
</html>
